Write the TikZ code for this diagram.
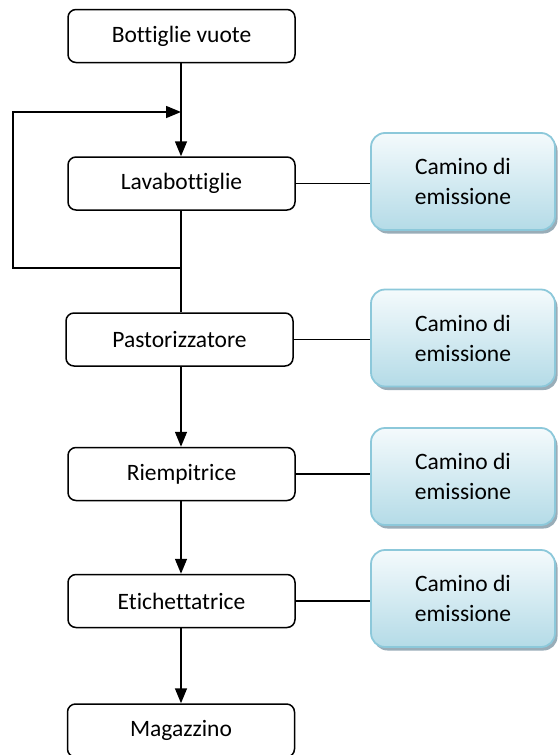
\documentclass[tikz,border=0pt]{standalone}
\usepackage{fontspec}
\setmainfont[Ligatures=NoCommon]{Carlito}
\usetikzlibrary{arrows.meta,shadows}
\definecolor{caminotop}{RGB}{244,250,252}
\definecolor{caminobottom}{RGB}{180,219,231}
\definecolor{caminoborder}{RGB}{140,200,218}
\definecolor{caminoshadow}{RGB}{128,152,166}

\begin{document}
\begin{tikzpicture}[x=1pt,y=-1pt,
  fase/.style={draw,line width=1.5pt,rounded corners=8pt,minimum width=227pt,
    minimum height=53pt,inner sep=0pt,font=\fontsize{23.5}{28}\selectfont},
  camino/.style={draw=caminoborder,line width=1.8pt,rounded corners=14pt,
    top color=caminotop,bottom color=caminobottom,minimum width=184pt,
    minimum height=97pt,inner sep=0pt,align=center,font=\fontsize{23.5}{30}\selectfont,
    drop shadow={shadow xshift=2.5pt,shadow yshift=-3.5pt,fill=caminoshadow,opacity=0.8}},
  flusso/.style={line width=1.5pt},
  freccia/.style={line width=1.5pt,-{Triangle[length=15pt,width=12pt]}}]
  \useasboundingbox (0,0) rectangle (557,755);
  \node[fase] (vuote) at (181.5,36) {Bottiglie vuote};
  \node[fase] (lava) at (181.5,183.5) {Lavabottiglie};
  \node[fase] (pasto) at (179.5,339.5) {Pastorizzatore};
  \node[fase] (riemp) at (181.5,474) {Riempitrice};
  \node[fase] (etich) at (181.5,601) {Etichettatrice};
  \node[fase] (magaz) at (181,730.5) {Magazzino};
  \node[camino] (cam1) at (463,181.5) {Camino di\\emissione};
  \node[camino] (cam2) at (463,338) {Camino di\\emissione};
  \node[camino] (cam3) at (463,476.5) {Camino di\\emissione};
  \node[camino] (cam4) at (463,598.5) {Camino di\\emissione};
  \coordinate (ritorno) at (181,112);
  \coordinate (ricircolo) at (181,268);
  \draw[flusso] (vuote.south -| ritorno) -- (ritorno);
  \draw[freccia] (ritorno) -- (lava.north -| ritorno);
  \draw[flusso] (lava.south -| ricircolo) -- (pasto.north -| ricircolo);
  \draw[freccia] (ricircolo) -- (13,268) -- (13,112) -- (ritorno);
  \draw[freccia] (pasto.south -| ricircolo) -- (riemp.north -| ricircolo);
  \draw[freccia] (riemp.south -| ricircolo) -- (etich.north -| ricircolo);
  \draw[freccia] (etich.south -| ricircolo) -- (magaz.north -| ricircolo);
  \draw[flusso] (lava.east) -- (cam1.west |- lava.east);
  \draw[flusso] (pasto.east) -- (cam2.west |- pasto.east);
  \draw[flusso] (riemp.east) -- (cam3.west |- riemp.east);
  \draw[flusso] (etich.east) -- (cam4.west |- etich.east);
\end{tikzpicture}
\end{document}
